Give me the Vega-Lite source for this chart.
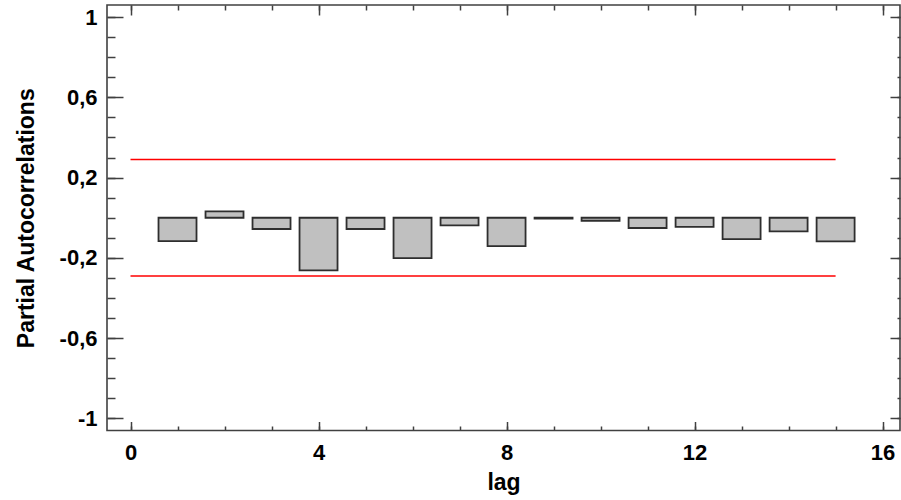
{
  "$schema": "https://vega.github.io/schema/vega-lite/v6.json",
  "width": 793,
  "height": 425.5,
  "autosize": {"type": "none"},
  "padding": {"left": 107, "top": 5, "right": 1, "bottom": 69.5},
  "background": "white",
  "config": {
    "view": {"stroke": "#404040", "strokeWidth": 1.6},
    "scale": {"continuousPadding": 0},
    "axis": {
      "domain": false,
      "grid": false,
      "tickColor": "#404040",
      "tickWidth": 1.5,
      "labelFont": "Liberation Sans",
      "labelFontWeight": "bold",
      "labelFontSize": 22,
      "labelColor": "#000000",
      "titleFont": "Liberation Sans",
      "titleFontWeight": "bold",
      "titleFontSize": 23,
      "titleColor": "#000000"
    }
  },
  "datasets": {
    "pacf": [
      {"lag": 1, "pacf": -0.116},
      {"lag": 2, "pacf": 0.032},
      {"lag": 3, "pacf": -0.056},
      {"lag": 4, "pacf": -0.262},
      {"lag": 5, "pacf": -0.056},
      {"lag": 6, "pacf": -0.201},
      {"lag": 7, "pacf": -0.038},
      {"lag": 8, "pacf": -0.141},
      {"lag": 9, "pacf": -0.004},
      {"lag": 10, "pacf": -0.015},
      {"lag": 11, "pacf": -0.051},
      {"lag": 12, "pacf": -0.045},
      {"lag": 13, "pacf": -0.106},
      {"lag": 14, "pacf": -0.068},
      {"lag": 15, "pacf": -0.118}
    ],
    "limits": [
      {"from": 0, "to": 15, "limit": 0.29},
      {"from": 0, "to": 15, "limit": -0.29}
    ]
  },
  "resolve": {
    "scale": {"x": "shared", "y": "shared"},
    "axis": {"x": "independent", "y": "independent"}
  },
  "layer": [
    {
      "data": {"name": "pacf"},
      "transform": [{"filter": "datum.pacf < 0"}],
      "mark": {"type": "bar", "width": 38, "fill": "#c0c0c0", "stroke": "#2e2e2e", "strokeWidth": 1.8},
      "encoding": {
        "x": {
          "field": "lag", "type": "quantitative",
          "scale": {"domain": [-0.5, 16.37], "nice": false, "zero": false, "padding": 0},
          "axis": {"orient": "bottom", "values": [0, 4, 8, 12, 16], "tickSize": -9, "labelPadding": 21, "title": "lag", "titlePadding": 8}
        },
        "y": {
          "field": "pacf", "type": "quantitative",
          "scale": {"domain": [-1.06, 1.06], "nice": false, "zero": false, "padding": 0},
          "axis": {"orient": "left", "values": [-1, -0.6, -0.2, 0.2, 0.6, 1], "tickSize": -16, "labelPadding": 26, "labelExpr": "replace(toString(datum.value), '.', ',')", "title": "Partial Autocorrelations", "titlePadding": 21}
        },
        "y2": {"datum": 0}
      }
    },
    {
      "data": {"name": "pacf"},
      "transform": [{"filter": "datum.pacf >= 0"}],
      "mark": {"type": "bar", "width": 38, "fill": "#c0c0c0", "stroke": "#2e2e2e", "strokeWidth": 1.8},
      "encoding": {
        "x": {
          "field": "lag", "type": "quantitative",
          "scale": {"domain": [-0.5, 16.37], "nice": false, "zero": false, "padding": 0},
          "axis": {"orient": "top", "values": [0, 4, 8, 12, 16], "tickSize": -10, "labels": false, "title": null}
        },
        "y": {
          "field": "pacf", "type": "quantitative",
          "scale": {"domain": [-1.06, 1.06], "nice": false, "zero": false, "padding": 0},
          "axis": {"orient": "right", "values": [-1, -0.6, -0.2, 0.2, 0.6, 1], "tickSize": -10, "labels": false, "title": null}
        },
        "y2": {"datum": 0}
      }
    },
    {
      "data": {"name": "limits"},
      "transform": [{"filter": "datum.limit > 0"}],
      "mark": {"type": "rule", "color": "#ff0000", "strokeWidth": 1.5},
      "encoding": {
        "x": {
          "field": "from", "type": "quantitative",
          "scale": {"domain": [-0.5, 16.37], "nice": false, "zero": false, "padding": 0},
          "axis": {"orient": "bottom", "values": [0, 1, 2, 3, 4, 5, 6, 7, 8, 9, 10, 11, 12, 13, 14, 15, 16], "tickSize": -4.5, "labels": false, "title": null}
        },
        "x2": {"field": "to"},
        "y": {
          "field": "limit", "type": "quantitative",
          "scale": {"domain": [-1.06, 1.06], "nice": false, "zero": false, "padding": 0},
          "axis": {"orient": "left", "values": [-1, -0.9, -0.8, -0.7, -0.6, -0.5, -0.4, -0.3, -0.2, -0.1, 0, 0.1, 0.2, 0.3, 0.4, 0.5, 0.6, 0.7, 0.8, 0.9, 1], "tickSize": -8, "labels": false, "title": null}
        }
      }
    },
    {
      "data": {"name": "limits"},
      "transform": [{"filter": "datum.limit < 0"}],
      "mark": {"type": "rule", "color": "#ff0000", "strokeWidth": 1.5},
      "encoding": {
        "x": {
          "field": "from", "type": "quantitative",
          "scale": {"domain": [-0.5, 16.37], "nice": false, "zero": false, "padding": 0},
          "axis": {"orient": "top", "values": [0, 1, 2, 3, 4, 5, 6, 7, 8, 9, 10, 11, 12, 13, 14, 15, 16], "tickSize": -5, "labels": false, "title": null}
        },
        "x2": {"field": "to"},
        "y": {
          "field": "limit", "type": "quantitative",
          "scale": {"domain": [-1.06, 1.06], "nice": false, "zero": false, "padding": 0},
          "axis": {"orient": "right", "values": [-1, -0.9, -0.8, -0.7, -0.6, -0.5, -0.4, -0.3, -0.2, -0.1, 0, 0.1, 0.2, 0.3, 0.4, 0.5, 0.6, 0.7, 0.8, 0.9, 1], "tickSize": -3, "labels": false, "title": null}
        }
      }
    }
  ]
}
